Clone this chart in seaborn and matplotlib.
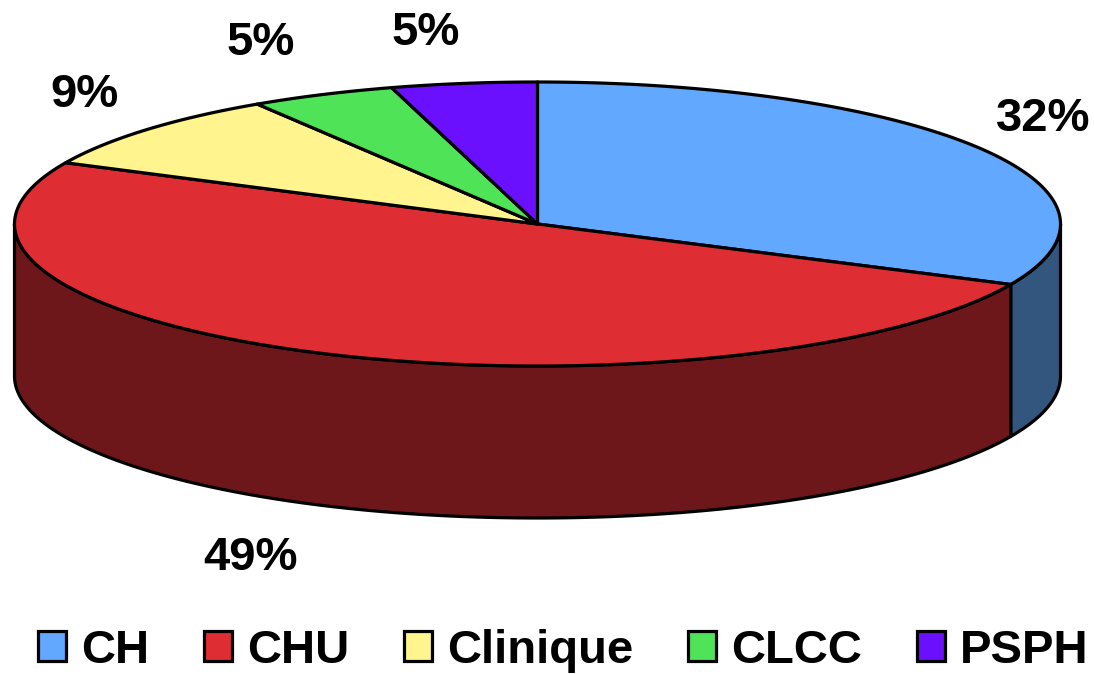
import numpy as np
import matplotlib
matplotlib.use("Agg")
import matplotlib.pyplot as plt
from matplotlib.patches import Patch
import seaborn as sns

categories = ["CH", "CHU", "Clinique", "CLCC", "PSPH"]
shares = [32.0, 50.1, 8.9, 4.5, 4.5]
labels = ["32%", "49%", "9%", "5%", "5%"]
top_colors = ["#62A8FF", "#DE2E33", "#FFF48D", "#4FE458", "#6A10FF"]
side_colors = ["#33567F", "#6E171A", "#7F7A46", "#27722C", "#35087F"]

CX, CY, RX, RY, DEPTH = 537.5, 224, 523, 142, 152
LINE = 2.3
FONT = 34

sns.set_theme(style="white")
plt.rcParams["font.family"] = ["Liberation Sans", "DejaVu Sans"]

fig = plt.figure(figsize=(10.94, 6.74), dpi=100)
ax = fig.add_axes([0, 0, 1, 1])
ax.set_xlim(0, 1094)
ax.set_ylim(674, 0)
ax.axis("off")


def rim(a0, a1, drop=0.0):
    """Ellipse points for clockwise-from-top angles in degrees."""
    t = np.radians(np.linspace(a0, a1, max(int(abs(a1 - a0) * 3), 2)))
    return CX + RX * np.sin(t), CY - RY * np.cos(t) + drop


edges = 360 * np.concatenate([[0], np.cumsum(shares)]) / np.sum(shares)

# visible side wall: the front half of the ellipse
for a0, a1, col in zip(edges[:-1], edges[1:], side_colors):
    lo, hi = max(a0, 90), min(a1, 270)
    if hi <= lo:
        continue
    x, y = rim(lo, hi)
    xb, yb = rim(lo, hi, DEPTH)
    ax.fill(np.r_[x, xb[::-1]], np.r_[y, yb[::-1]], facecolor=col,
            edgecolor="black", lw=LINE, joinstyle="round", zorder=2)

# top face
for a0, a1, col in zip(edges[:-1], edges[1:], top_colors):
    x, y = rim(a0, a1)
    ax.fill(np.r_[CX, x], np.r_[CY, y], facecolor=col,
            edgecolor="black", lw=LINE, joinstyle="round", zorder=3)

# percentage labels
label_pos = [(1043, 119), (250, 558), (84, 95), (261, 43), (426, 33)]
for txt, (lx, ly) in zip(labels, label_pos):
    ax.text(lx, ly, txt, ha="center", va="center", fontsize=FONT,
            fontweight="bold", color="black")

handles = [Patch(facecolor=c, edgecolor="black", lw=LINE) for c in top_colors]
ax.legend(handles, categories, loc="center", bbox_to_anchor=(0.515, 0.0345),
          ncols=5, frameon=False, handlelength=0.6, handleheight=0.62,
          handletextpad=0.32, columnspacing=1.15, borderpad=0, borderaxespad=0,
          prop={"size": FONT, "weight": "bold"}, labelcolor="black")

fig.savefig("out.png", dpi=100, facecolor="white")
